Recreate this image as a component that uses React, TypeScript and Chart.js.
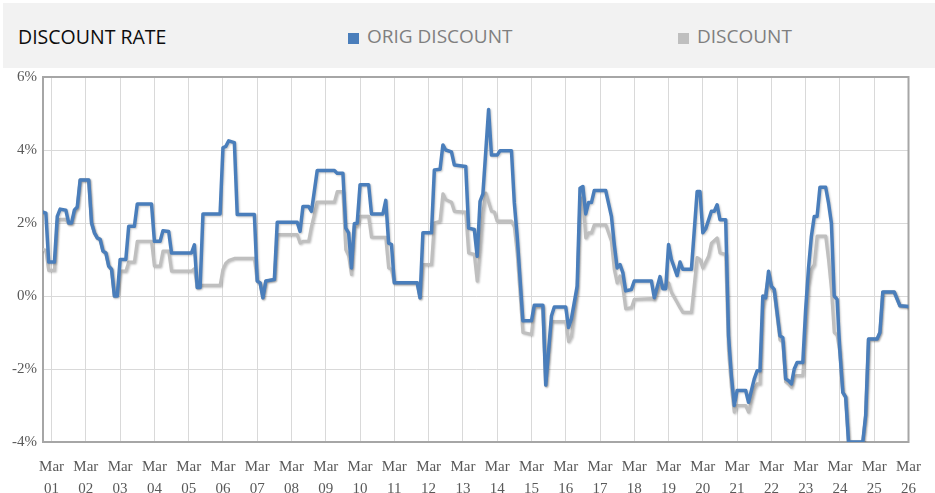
import React, { useEffect, useRef } from "react";
import { Chart, registerables } from "chart.js";

Chart.register(...registerables);

const TITLE = "DISCOUNT RATE";
const SERIES_NAMES = ["ORIG DISCOUNT", "DISCOUNT"];
const X_TICK_YEARS = ["01", "02", "03", "04", "05", "06", "07", "08", "09", "10", "11", "12", "13", "14", "15", "16", "17", "18", "19", "20", "21", "22", "23", "24", "25", "26"];
const X_TICK_MONTH = "Mar";
const Y_MIN = -4;
const Y_MAX = 6;
const Y_STEP = 2;
// x = months counted from Mar 2001 (0 = Mar 01, 12 = Mar 02, ... 300 = Mar 26); y = %
const origDiscount: [number, number][] = [
  [-3, 2.30], [-2, 2.27], [-1, 0.93], [1, 0.93], [2, 2.18], [3, 2.38], [5, 2.35], [6, 2.00], [7, 2.00], [8, 2.36], [9, 2.44], [10, 3.18], [13, 3.18], [14, 2.00], [15, 1.73], [16, 1.59], [17, 1.55], [18, 1.23], [19, 1.18], [20, 0.82], [21, 0.73], [22, 0.00], [23, 0.00], [24, 1.00], [26, 1.00], [27, 1.91], [29, 1.91], [30, 2.52], [35, 2.52], [36, 1.50], [38, 1.50], [39, 1.79], [41, 1.77], [42, 1.18], [49, 1.18], [50, 1.40], [51, 0.23], [52, 0.23], [53, 2.25], [59, 2.25], [60, 4.06], [61, 4.10], [62, 4.25], [64, 4.20], [65, 2.23], [71, 2.23], [72, 0.41], [73, 0.36], [74, -0.05], [75, 0.41], [78, 0.45], [79, 2.02], [86, 2.02], [87, 1.77], [88, 2.45], [90, 2.45], [91, 2.32], [93, 3.44], [99, 3.44], [100, 3.36], [102, 3.36], [103, 1.86], [104, 1.73], [105, 0.77], [106, 1.98], [107, 2.00], [108, 3.05], [111, 3.05], [112, 2.25], [116, 2.25], [117, 2.62], [118, 1.45], [119, 1.41], [120, 0.36], [128, 0.36], [129, -0.05], [130, 1.73], [133, 1.73], [134, 3.45], [136, 3.47], [137, 4.14], [138, 4.00], [140, 3.95], [141, 3.59], [145, 3.55], [146, 1.86], [148, 1.82], [149, 1.09], [150, 2.59], [151, 2.80], [153, 5.11], [154, 3.86], [156, 3.86], [157, 3.98], [161, 3.98], [162, 2.55], [163, 1.64], [165, -0.68], [168, -0.68], [169, -0.25], [172, -0.25], [173, -2.44], [175, -0.55], [176, -0.30], [180, -0.30], [181, -0.86], [182, -0.62], [184, 0.27], [185, 2.95], [186, 3.00], [187, 2.25], [188, 2.56], [189, 2.56], [190, 2.89], [194, 2.89], [196, 2.18], [197, 1.41], [198, 0.77], [199, 0.86], [200, 0.64], [201, 0.14], [203, 0.18], [204, 0.41], [210, 0.41], [211, -0.05], [213, 0.53], [214, 0.20], [215, 0.20], [216, 1.41], [217, 1.00], [219, 0.56], [220, 0.93], [221, 0.73], [224, 0.73], [226, 2.86], [227, 2.86], [228, 1.73], [229, 1.84], [231, 2.32], [232, 2.32], [233, 2.50], [234, 2.09], [236, 2.09], [237, -1.09], [238, -2.18], [239, -3.00], [240, -2.59], [243, -2.59], [244, -2.91], [246, -2.27], [247, -2.05], [248, -2.05], [249, 0.00], [250, -0.05], [251, 0.68], [252, 0.27], [253, 0.18], [255, -1.09], [256, -1.14], [257, -2.27], [258, -2.32], [259, -2.41], [260, -2.00], [261, -1.82], [263, -1.82], [264, -0.36], [265, 0.77], [266, 1.64], [267, 2.18], [268, 2.18], [269, 2.98], [271, 2.98], [272, 2.55], [273, 2.00], [274, 0.00], [275, -0.09], [276, -1.55], [277, -2.64], [278, -2.77], [279, -4.00], [284, -4.00], [285, -3.27], [286, -1.18], [289, -1.18], [290, -1.00], [291, 0.11], [295, 0.11], [297, -0.27], [300, -0.29],
];
const discount: [number, number][] = [
  [-3, 1.27], [-2, 1.25], [-1, 0.70], [1, 0.70], [2, 2.05], [3, 2.10], [5, 2.10], [6, 1.98], [7, 1.98], [8, 2.30], [9, 2.40], [10, 3.18], [13, 3.18], [14, 2.00], [15, 1.73], [16, 1.59], [17, 1.55], [18, 1.23], [19, 1.18], [20, 0.82], [21, 0.73], [22, 0.00], [23, 0.05], [24, 0.68], [26, 0.68], [27, 0.93], [29, 0.93], [30, 1.50], [35, 1.50], [36, 0.82], [38, 0.82], [39, 1.23], [41, 1.23], [42, 0.68], [49, 0.68], [50, 0.75], [51, 0.23], [52, 0.29], [59, 0.29], [60, 0.73], [61, 0.90], [62, 0.97], [64, 1.03], [71, 1.03], [72, 0.41], [73, 0.36], [74, -0.05], [75, 0.41], [78, 0.45], [79, 1.68], [86, 1.68], [87, 1.45], [88, 1.50], [90, 1.50], [91, 1.91], [93, 2.57], [99, 2.57], [100, 2.86], [102, 2.86], [103, 1.27], [104, 1.10], [105, 0.59], [106, 1.91], [107, 1.91], [108, 2.18], [111, 2.18], [112, 1.61], [117, 1.61], [118, 0.77], [119, 0.73], [120, 0.36], [128, 0.36], [129, -0.05], [130, 0.86], [133, 0.86], [134, 2.00], [136, 2.05], [137, 2.80], [138, 2.64], [140, 2.57], [141, 2.32], [145, 2.30], [146, 1.18], [148, 1.14], [149, 0.41], [150, 1.23], [151, 2.27], [152, 2.82], [154, 2.32], [155, 2.30], [156, 2.05], [161, 2.05], [162, 1.90], [163, 1.18], [165, -1.00], [168, -1.05], [169, -0.30], [172, -0.30], [173, -2.44], [175, -0.70], [176, -0.70], [180, -0.70], [181, -1.25], [182, -1.10], [184, 0.10], [185, 2.60], [186, 2.70], [187, 1.59], [188, 1.73], [189, 1.73], [190, 1.95], [194, 1.95], [196, 1.50], [197, 0.73], [198, 0.36], [199, 0.55], [200, 0.23], [201, -0.35], [203, -0.32], [204, -0.09], [210, -0.07], [211, -0.10], [213, 0.27], [215, 0.30], [216, 0.36], [217, 0.10], [219, -0.18], [220, -0.32], [221, -0.45], [224, -0.45], [226, 1.05], [227, 1.00], [228, 0.77], [230, 1.09], [231, 1.45], [233, 1.59], [234, 1.18], [236, 1.14], [237, -1.50], [238, -2.50], [239, -3.18], [240, -3.00], [243, -3.00], [244, -3.18], [246, -2.55], [247, -2.41], [248, -2.41], [249, -0.36], [251, 0.55], [252, 0.20], [253, 0.10], [255, -1.20], [256, -1.25], [257, -2.35], [258, -2.41], [259, -2.50], [260, -2.20], [261, -2.18], [263, -2.18], [264, -1.00], [265, 0.27], [266, 0.73], [267, 0.86], [268, 1.64], [271, 1.64], [272, 1.00], [273, 0.20], [274, -1.00], [275, -1.07], [276, -1.55], [277, -2.64], [278, -2.77], [279, -4.00], [284, -4.00], [285, -3.27], [286, -1.18], [289, -1.18], [290, -1.00], [291, 0.11], [295, 0.11], [297, -0.27], [300, -0.29],
];

const COLORS = ["#4a7ebb", "#bfbfbf"];

const borderPlugin = {
  id: "plotBorder",
  beforeDatasetsDraw(chart: any) {
    const { ctx, chartArea } = chart;
    ctx.save();
    ctx.strokeStyle = "#a6a6a6";
    ctx.lineWidth = 2;
    ctx.strokeRect(chartArea.left, chartArea.top, chartArea.right - chartArea.left, chartArea.bottom - chartArea.top);
    ctx.restore();
  },
  beforeDatasetDraw(chart: any) {
    const ctx = chart.ctx;
    ctx.save();
    ctx.shadowColor = "rgba(0,0,0,0.22)";
    ctx.shadowBlur = 2;
    ctx.shadowOffsetX = 1;
    ctx.shadowOffsetY = 1;
  },
  afterDatasetDraw(chart: any) {
    chart.ctx.restore();
  },
};

export default function App() {
  const canvasRef = useRef<HTMLCanvasElement | null>(null);

  useEffect(() => {
    if (!canvasRef.current) return;
    const chart = new Chart(canvasRef.current, {
      type: "line",
      data: {
        datasets: [
          {
            label: SERIES_NAMES[0],
            data: origDiscount.map(([x, y]) => ({ x, y })),
            borderColor: COLORS[0],
            backgroundColor: COLORS[0],
            borderWidth: 3.5,
            pointRadius: 0,
            tension: 0,
            borderJoinStyle: "round",
            borderCapStyle: "round",
          },
          {
            label: SERIES_NAMES[1],
            data: discount.map(([x, y]) => ({ x, y })),
            borderColor: COLORS[1],
            backgroundColor: COLORS[1],
            borderWidth: 3.2,
            pointRadius: 0,
            tension: 0,
            borderJoinStyle: "round",
            borderCapStyle: "round",
          },
        ],
      },
      options: {
        animation: false,
        responsive: false,
        devicePixelRatio: 1,
        layout: { padding: { top: 77, right: 16, left: 0, bottom: 0 } },
        plugins: { legend: { display: false }, tooltip: { enabled: false }, title: { display: false } },
        scales: {
          x: {
            type: "linear",
            min: -3,
            max: X_TICK_YEARS.length * 12 - 12,
            afterBuildTicks: (scale: any) => {
              scale.ticks = X_TICK_YEARS.map((_, i) => ({ value: i * 12 }));
            },
            afterFit: (scale: any) => {
              scale.height = 51;
            },
            grid: { color: "#d9d9d9", lineWidth: 1, drawTicks: false },
            border: { display: true, color: "#a6a6a6", width: 2 },
            ticks: {
              autoSkip: false,
              maxRotation: 0,
              padding: 14,
              color: "#595959",
              font: { family: "'Liberation Serif', 'DejaVu Serif', serif", size: 15, lineHeight: 1.45 },
              callback: (_v: any, i: number) => [X_TICK_MONTH, X_TICK_YEARS[i]],
            },
          },
          y: {
            type: "linear",
            min: Y_MIN,
            max: Y_MAX,
            afterFit: (scale: any) => {
              scale.width = 43;
            },
            grid: { color: "#d9d9d9", lineWidth: 1, drawTicks: false },
            border: { display: true, color: "#a6a6a6", width: 2 },
            ticks: {
              stepSize: Y_STEP,
              padding: 6,
              color: "#595959",
              font: { family: "'Liberation Serif', 'DejaVu Serif', serif", size: 15 },
              callback: (v: any) => `${v}%`,
            },
          },
        },
      },
      plugins: [borderPlugin],
    } as any);
    return () => chart.destroy();
  }, []);

  const legendText: React.CSSProperties = {
    position: "absolute",
    top: 24,
    fontFamily: "'Open Sans', sans-serif",
    fontSize: 19,
    lineHeight: "19px",
    color: "#7f7f7f",
    whiteSpace: "nowrap",
  };

  return (
    <div style={{ position: "absolute", left: 0, top: 0, width: 935, height: 493, background: "#ffffff", overflow: "hidden" }}>
      <canvas ref={canvasRef} width={935} height={493} style={{ position: "absolute", left: 0, top: 0, width: 935, height: 493 }} />
      <div style={{ position: "absolute", left: 3, top: 3, width: 932, height: 65, background: "#f2f2f2" }}>
        <span style={{ ...legendText, left: 15, fontSize: 19.5, color: "#0d0d0d" }}>{TITLE}</span>
        <span style={{ position: "absolute", left: 345, top: 30, width: 11, height: 11, background: COLORS[0] }} />
        <span style={{ ...legendText, left: 364 }}>{SERIES_NAMES[0]}</span>
        <span style={{ position: "absolute", left: 675, top: 30, width: 11, height: 11, background: COLORS[1] }} />
        <span style={{ ...legendText, left: 694 }}>{SERIES_NAMES[1]}</span>
      </div>
    </div>
  );
}
